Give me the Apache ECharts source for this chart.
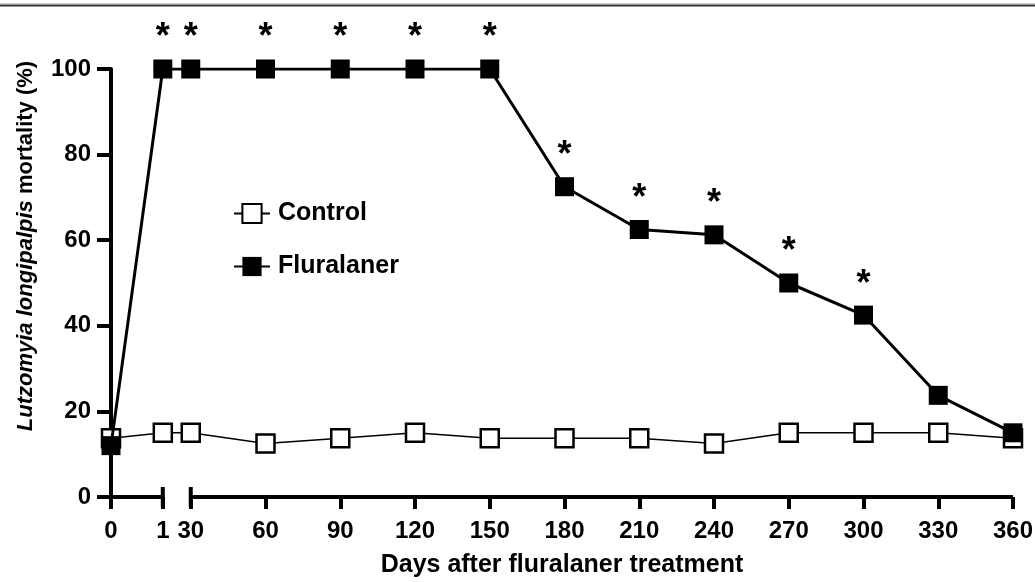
<!DOCTYPE html>
<html>
<head>
<meta charset="utf-8">
<script src="https://cdn.jsdelivr.net/npm/echarts@6/dist/echarts.min.js"></script>
<style>
  html, body { margin: 0; padding: 0; background: #fff; }
  #chart { width: 1035px; height: 582px; }
</style>
</head>
<body>
<div id="chart"></div>
<script>
// days after treatment and mortality (%)
const days = [0, 1, 30, 60, 90, 120, 150, 180, 210, 240, 270, 300, 330, 360];
const dayLabels = days.map(String);
const controlMortality = [13.75, 15, 15, 12.5, 13.75, 15, 13.75, 13.75, 13.75, 12.5, 15, 15, 15, 13.75];
const fluralanerMortality = [12, 100, 100, 100, 100, 100, 100, 72.5, 62.5, 61.25, 50, 42.5, 23.75, 15];
const significant = [0, 1, 1, 1, 1, 1, 1, 1, 1, 1, 1, 1, 0, 0];

// broken x axis: day 0..1 gets its own short segment, then 30..360 evenly
const firstSegWidth = 0.693;
const secondSegStart = 1.067;
function axisPos(d) {
  return d <= 1 ? d * firstSegWidth : secondSegStart + (d - 30) / 30;
}
const xPositions = days.map(axisPos);
const xMax = axisPos(360);

const font = "'Liberation Sans', Arial, sans-serif";

const chart = echarts.init(document.getElementById('chart'));

function axisSegment(from, to, breakEnd) {
  return {
    type: 'line',
    silent: true,
    clip: false,
    z: 5,
    lineStyle: { color: '#000', width: 4 },
    symbol: 'none',
    data: [from, to].map((d, i) => {
      const isBreak = (breakEnd === 'end' && i === 1) || (breakEnd === 'start' && i === 0);
      return isBreak
        ? { value: [axisPos(d), 0], symbol: 'rect', symbolSize: [4, 20], itemStyle: { color: '#000' } }
        : { value: [axisPos(d), 0], symbol: 'none' };
    })
  };
}

chart.setOption({
  backgroundColor: '#fff',
  animation: false,
  graphic: [
    { type: 'line', shape: { x1: 0, y1: 3.5, x2: 1035, y2: 3.5 }, style: { stroke: '#d0d0d0', lineWidth: 1 } },
    { type: 'line', shape: { x1: 0, y1: 5.5, x2: 1035, y2: 5.5 }, style: { stroke: '#333', lineWidth: 2 } }
  ],
  grid: { left: 111, right: 22, top: 69, bottom: 85, outerBoundsMode: 'none' },
  legend: {
    data: ['Control', 'Fluralaner'],
    orient: 'vertical',
    left: 233,
    top: 201,
    padding: 0,
    itemWidth: 36,
    itemHeight: 24,
    itemGap: 28,
    textStyle: { fontFamily: font, fontSize: 25, fontWeight: 'bold', color: '#000', padding: [0, 0, 0, 3] }
  },
  xAxis: {
    type: 'value',
    min: 0,
    max: xMax,
    name: 'Days after fluralaner treatment',
    nameLocation: 'middle',
    nameGap: 56,
    nameTextStyle: { fontFamily: font, fontSize: 25, fontWeight: 'bold', color: '#000' },
    splitLine: { show: false },
    axisLine: { show: false },
    axisTick: {
      show: true,
      customValues: xPositions,
      length: 12,
      lineStyle: { color: '#000', width: 4 }
    },
    axisLabel: {
      customValues: xPositions,
      margin: 22,
      fontFamily: font,
      fontSize: 24,
      fontWeight: 'bold',
      color: '#000',
      formatter: v => {
        const i = xPositions.findIndex(p => Math.abs(p - v) < 1e-6);
        return i >= 0 ? dayLabels[i] : '';
      }
    }
  },
  yAxis: {
    type: 'value',
    min: 0,
    max: 100,
    interval: 20,
    name: '{i|Lutzomyia longipalpis} mortality (%)',
    nameLocation: 'middle',
    nameGap: 74,
    nameRotate: 90,
    nameTextStyle: {
      fontFamily: font, fontSize: 22, fontWeight: 'bold', color: '#000',
      padding: [0, 0, 0, 74],
      rich: { i: { fontFamily: font, fontSize: 22, fontWeight: 'bold', fontStyle: 'italic', color: '#000' } }
    },
    splitLine: { show: false },
    axisLine: { show: true, lineStyle: { color: '#000', width: 4 } },
    axisTick: { show: true, length: 14, lineStyle: { color: '#000', width: 4 } },
    axisLabel: { margin: 20, fontFamily: font, fontSize: 24, fontWeight: 'bold', color: '#000' }
  },
  series: [
    {
      name: 'Control',
      type: 'line',
      symbol: 'rect',
      symbolSize: 18,
      z: 3,
      lineStyle: { color: '#000', width: 1.5 },
      itemStyle: { color: '#fff', borderColor: '#000', borderWidth: 2.5 },
      data: days.map((d, i) => [axisPos(d), controlMortality[i]])
    },
    {
      name: 'Fluralaner',
      type: 'line',
      symbol: 'rect',
      symbolSize: 19,
      z: 4,
      lineStyle: { color: '#000', width: 3 },
      itemStyle: { color: '#000', borderColor: '#000', borderWidth: 0 },
      label: {
        position: 'top',
        distance: 3,
        formatter: '*',
        fontFamily: font,
        fontSize: 36,
        fontWeight: 'bold',
        color: '#000'
      },
      data: days.map((d, i) => ({
        value: [axisPos(d), fluralanerMortality[i]],
        label: { show: !!significant[i] }
      }))
    },
    axisSegment(0, 1, 'end'),
    axisSegment(30, 360, 'start')
  ]
});
</script>
</body>
</html>
